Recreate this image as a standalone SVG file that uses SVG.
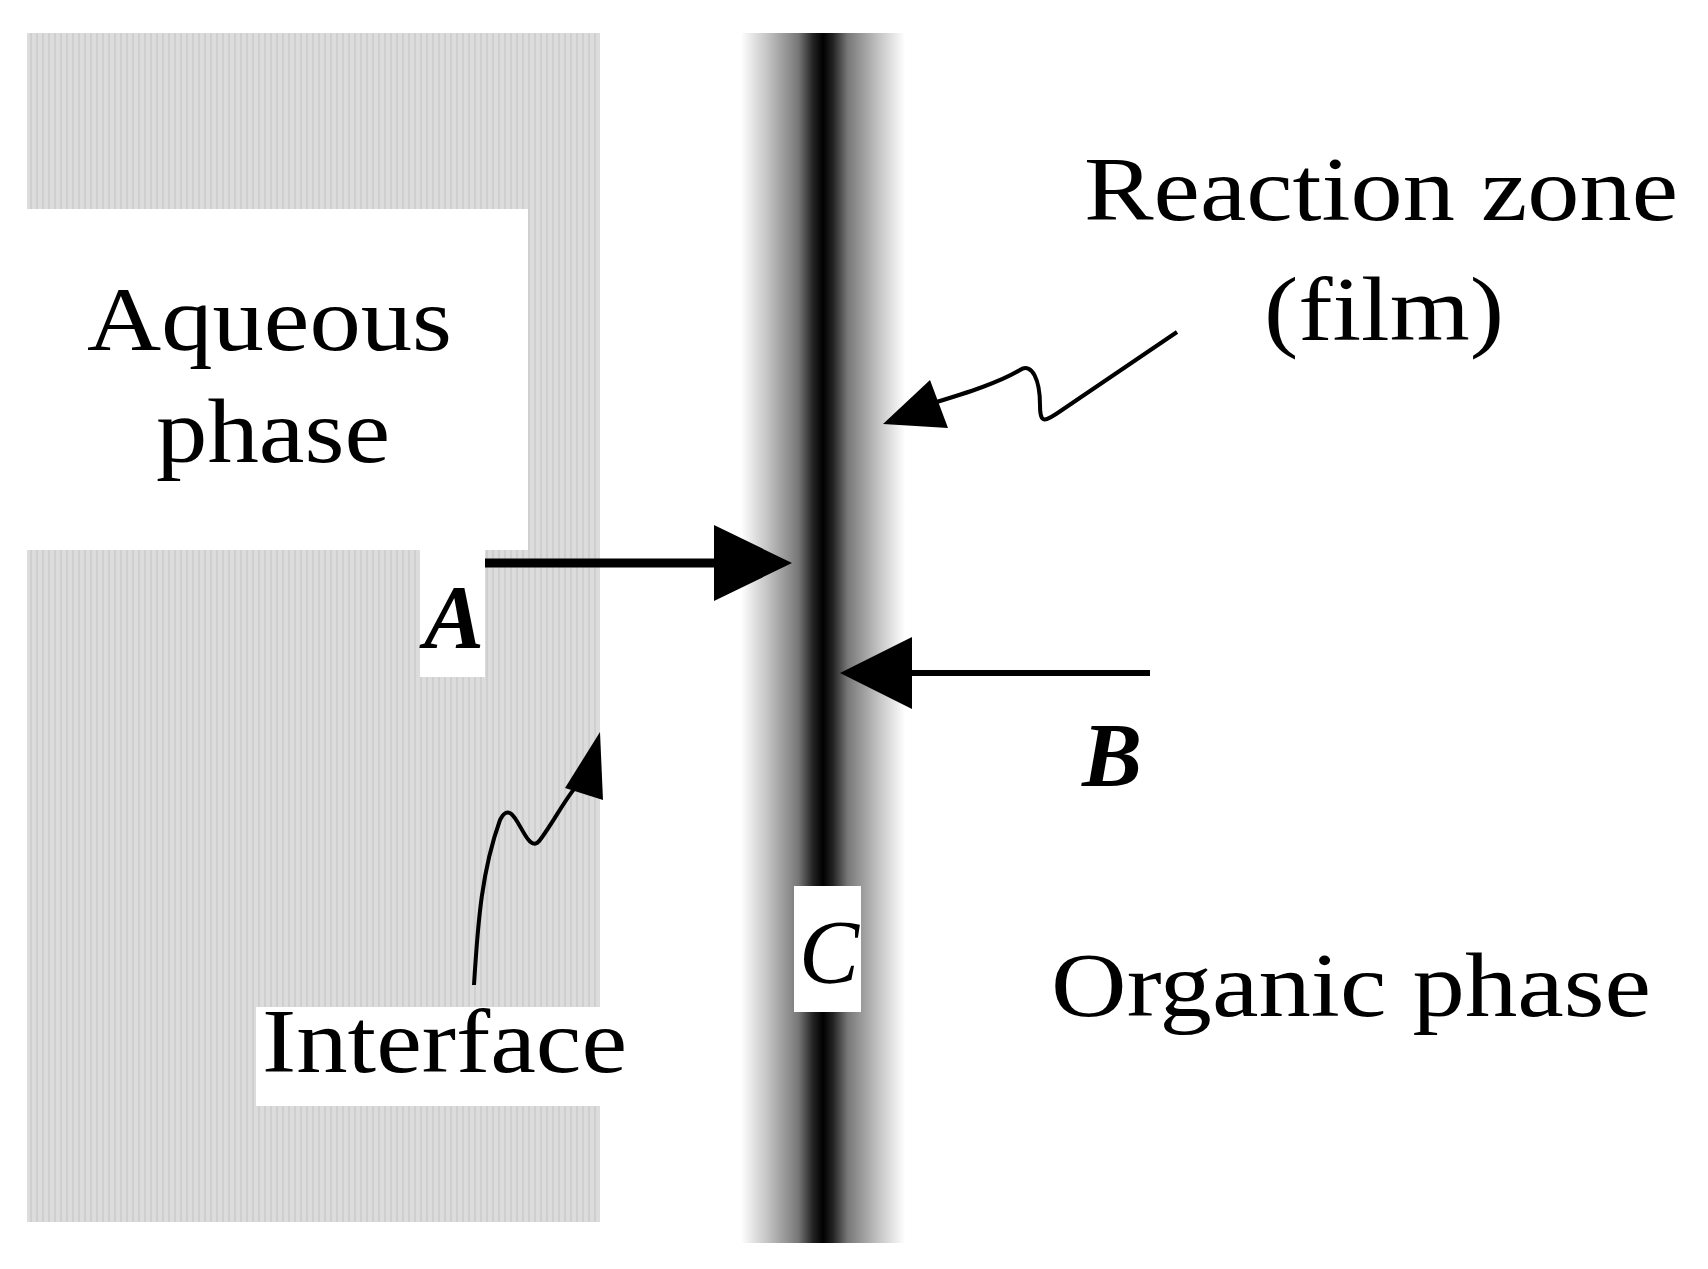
<svg xmlns="http://www.w3.org/2000/svg" width="1708" height="1269" viewBox="0 0 1708 1269">
<defs>
<linearGradient id="bar" x1="0" x2="1" y1="0" y2="0">
<stop offset="0" stop-color="#fff"/>
<stop offset="0.15" stop-color="#c8c8c8"/>
<stop offset="0.35" stop-color="#777"/>
<stop offset="0.44" stop-color="#222"/>
<stop offset="0.5" stop-color="#000"/>
<stop offset="0.56" stop-color="#222"/>
<stop offset="0.65" stop-color="#777"/>
<stop offset="0.85" stop-color="#c8c8c8"/>
<stop offset="1" stop-color="#fff"/>
</linearGradient>
<pattern id="stripes" width="6" height="6" patternUnits="userSpaceOnUse">
<rect width="6" height="6" fill="#dcdcdc"/>
<rect width="2" height="6" fill="#cfcfcf"/>
</pattern>
<style>
.t{font-family:"Liberation Serif","Times New Roman",serif;font-size:90px;fill:#000}
.bi{font-family:"Liberation Serif","Times New Roman",serif;font-size:90px;font-weight:bold;font-style:italic;fill:#000}
.sq{fill:none;stroke:#000;stroke-width:4}
</style>
</defs>
<rect width="1708" height="1269" fill="#fff"/>
<g id="aqueous-region">
<rect x="27" y="33" width="573" height="1189" fill="url(#stripes)"/>
<rect x="27" y="209" width="501" height="341" fill="#fff"/>
<rect x="420" y="550" width="65" height="127" fill="#fff"/>
<rect x="256" y="1007" width="344" height="99" fill="#fff"/>
</g>
<g id="reaction-zone-bar">
<rect x="741" y="33" width="164" height="1210" fill="url(#bar)"/>
<rect x="794" y="886" width="67" height="126" fill="#fff"/>
</g>
<g id="connectors">
<line x1="485" y1="563" x2="720" y2="563" stroke="#000" stroke-width="9"/>
<path d="M714,525 L792,563 L714,601 Z" fill="#000"/>
<line x1="1150" y1="673" x2="910" y2="673" stroke="#000" stroke-width="6"/>
<path d="M912,637 L840,673 L912,709 Z" fill="#000"/>
<path class="sq" d="M1177,332 L1062,410 C1045,422 1040,425 1040,405 C1040,380 1032,362 1020,370 C1000,382 970,392 930,404"/>
<path d="M930,380 L883,424 L948,428 Z" fill="#000"/>
<path class="sq" d="M474,985 C478,920 482,870 500,820 C515,790 525,860 540,840 C555,820 570,790 582,780"/>
<path d="M565,788 L600,732 L603,800 Z" fill="#000"/>
</g>
<g id="labels">
<text class="t" x="1084" y="220" textLength="594" lengthAdjust="spacingAndGlyphs">Reaction zone</text>
<text class="t" x="1264" y="340" textLength="240" lengthAdjust="spacingAndGlyphs">(film)</text>
<text class="t" x="87" y="350" textLength="365" lengthAdjust="spacingAndGlyphs">Aqueous</text>
<text class="t" x="156" y="462" textLength="234" lengthAdjust="spacingAndGlyphs">phase</text>
<text class="bi" x="424" y="648">A</text>
<text class="bi" x="1082" y="786">B</text>
<text class="bi" x="799" y="983" style="font-weight:normal">C</text>
<text class="t" x="1051" y="1016" textLength="600" lengthAdjust="spacingAndGlyphs">Organic phase</text>
<text class="t" x="262" y="1072" textLength="365" lengthAdjust="spacingAndGlyphs">Interface</text>
</g>
</svg>
